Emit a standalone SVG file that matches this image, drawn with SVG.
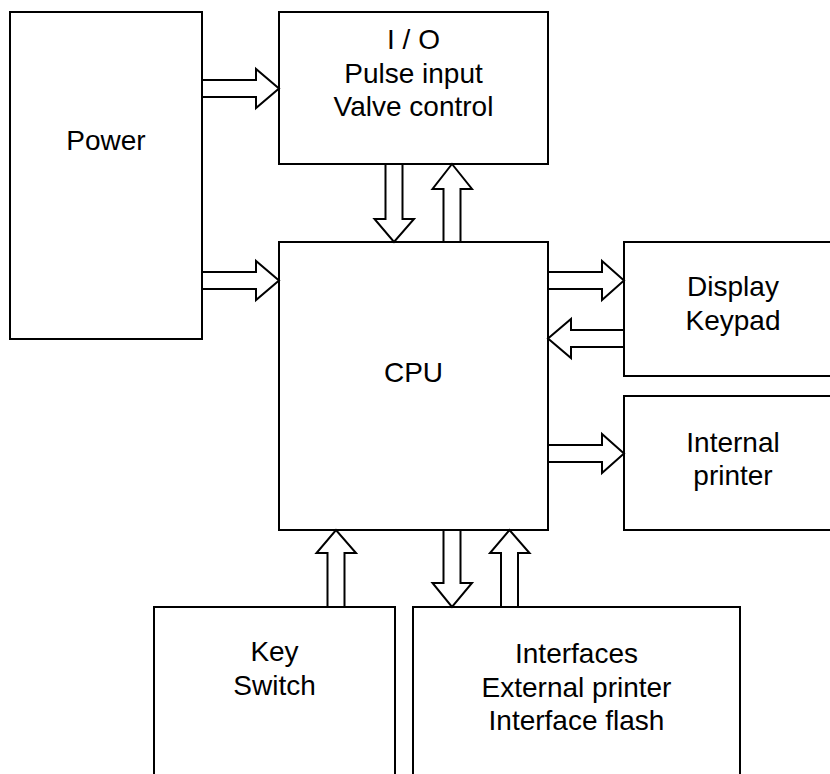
<svg xmlns="http://www.w3.org/2000/svg" width="830" height="774" viewBox="0 0 830 774">
<style>
.box{fill:#fff;stroke:#000;stroke-width:2}
.arr{fill:#fff;stroke:#000;stroke-width:2;stroke-linejoin:miter}
text{font-family:"Liberation Sans",Arial,sans-serif;font-size:28px;fill:#000;text-anchor:middle}
</style>
<rect width="830" height="774" fill="#fff"/>
<g id="power"><rect class="box" x="10" y="12" width="192" height="327"/><text x="106" y="150">Power</text></g>
<g id="io"><rect class="box" x="279" y="12" width="269" height="152"/><text x="413.5" y="49">I / O</text><text x="413.5" y="83">Pulse input</text><text x="413.5" y="116">Valve control</text></g>
<g id="cpu"><rect class="box" x="279" y="242" width="269" height="288"/><text x="413.5" y="382">CPU</text></g>
<g id="display"><rect class="box" x="624" y="242" width="220" height="134"/><text x="733" y="296">Display</text><text x="733" y="330">Keypad</text></g>
<g id="printer"><rect class="box" x="624" y="396" width="220" height="134"/><text x="733" y="452">Internal</text><text x="733" y="485">printer</text></g>
<g id="keyswitch"><rect class="box" x="154" y="607" width="241" height="200"/><text x="274.5" y="661">Key</text><text x="274.5" y="695">Switch</text></g>
<g id="interfaces"><rect class="box" x="413" y="607" width="327" height="200"/><text x="576.5" y="663">Interfaces</text><text x="576.5" y="697">External printer</text><text x="576.5" y="730">Interface flash</text></g>
<g id="connectors">
<polygon class="arr" points="202,80 256,80 256,69 279,88.5 256,108 256,97 202,97"/>
<polygon class="arr" points="202,272 256,272 256,261 279,280.5 256,300 256,289 202,289"/>
<polygon class="arr" points="385.5,164 402.5,164 402.5,219 414,219 394,242 374.5,219 385.5,219"/>
<polygon class="arr" points="443.5,242 460.5,242 460.5,189 472,189 452,164 432.5,189 443.5,189"/>
<polygon class="arr" points="548,272 602,272 602,261 624,280.5 602,300 602,289 548,289"/>
<polygon class="arr" points="624,330 571,330 571,319 548,338.5 571,358 571,347 624,347"/>
<polygon class="arr" points="548,445 602,445 602,434 624,453.5 602,473 602,462 548,462"/>
<polygon class="arr" points="327.5,607 344.5,607 344.5,553 356,553 336,530 316.5,553 327.5,553"/>
<polygon class="arr" points="443.5,530 460.5,530 460.5,583 472,583 452,607 432.5,583 443.5,583"/>
<polygon class="arr" points="501,607 518,607 518,553 529.5,553 509.5,530 490,553 501,553"/>
</g>
</svg>
